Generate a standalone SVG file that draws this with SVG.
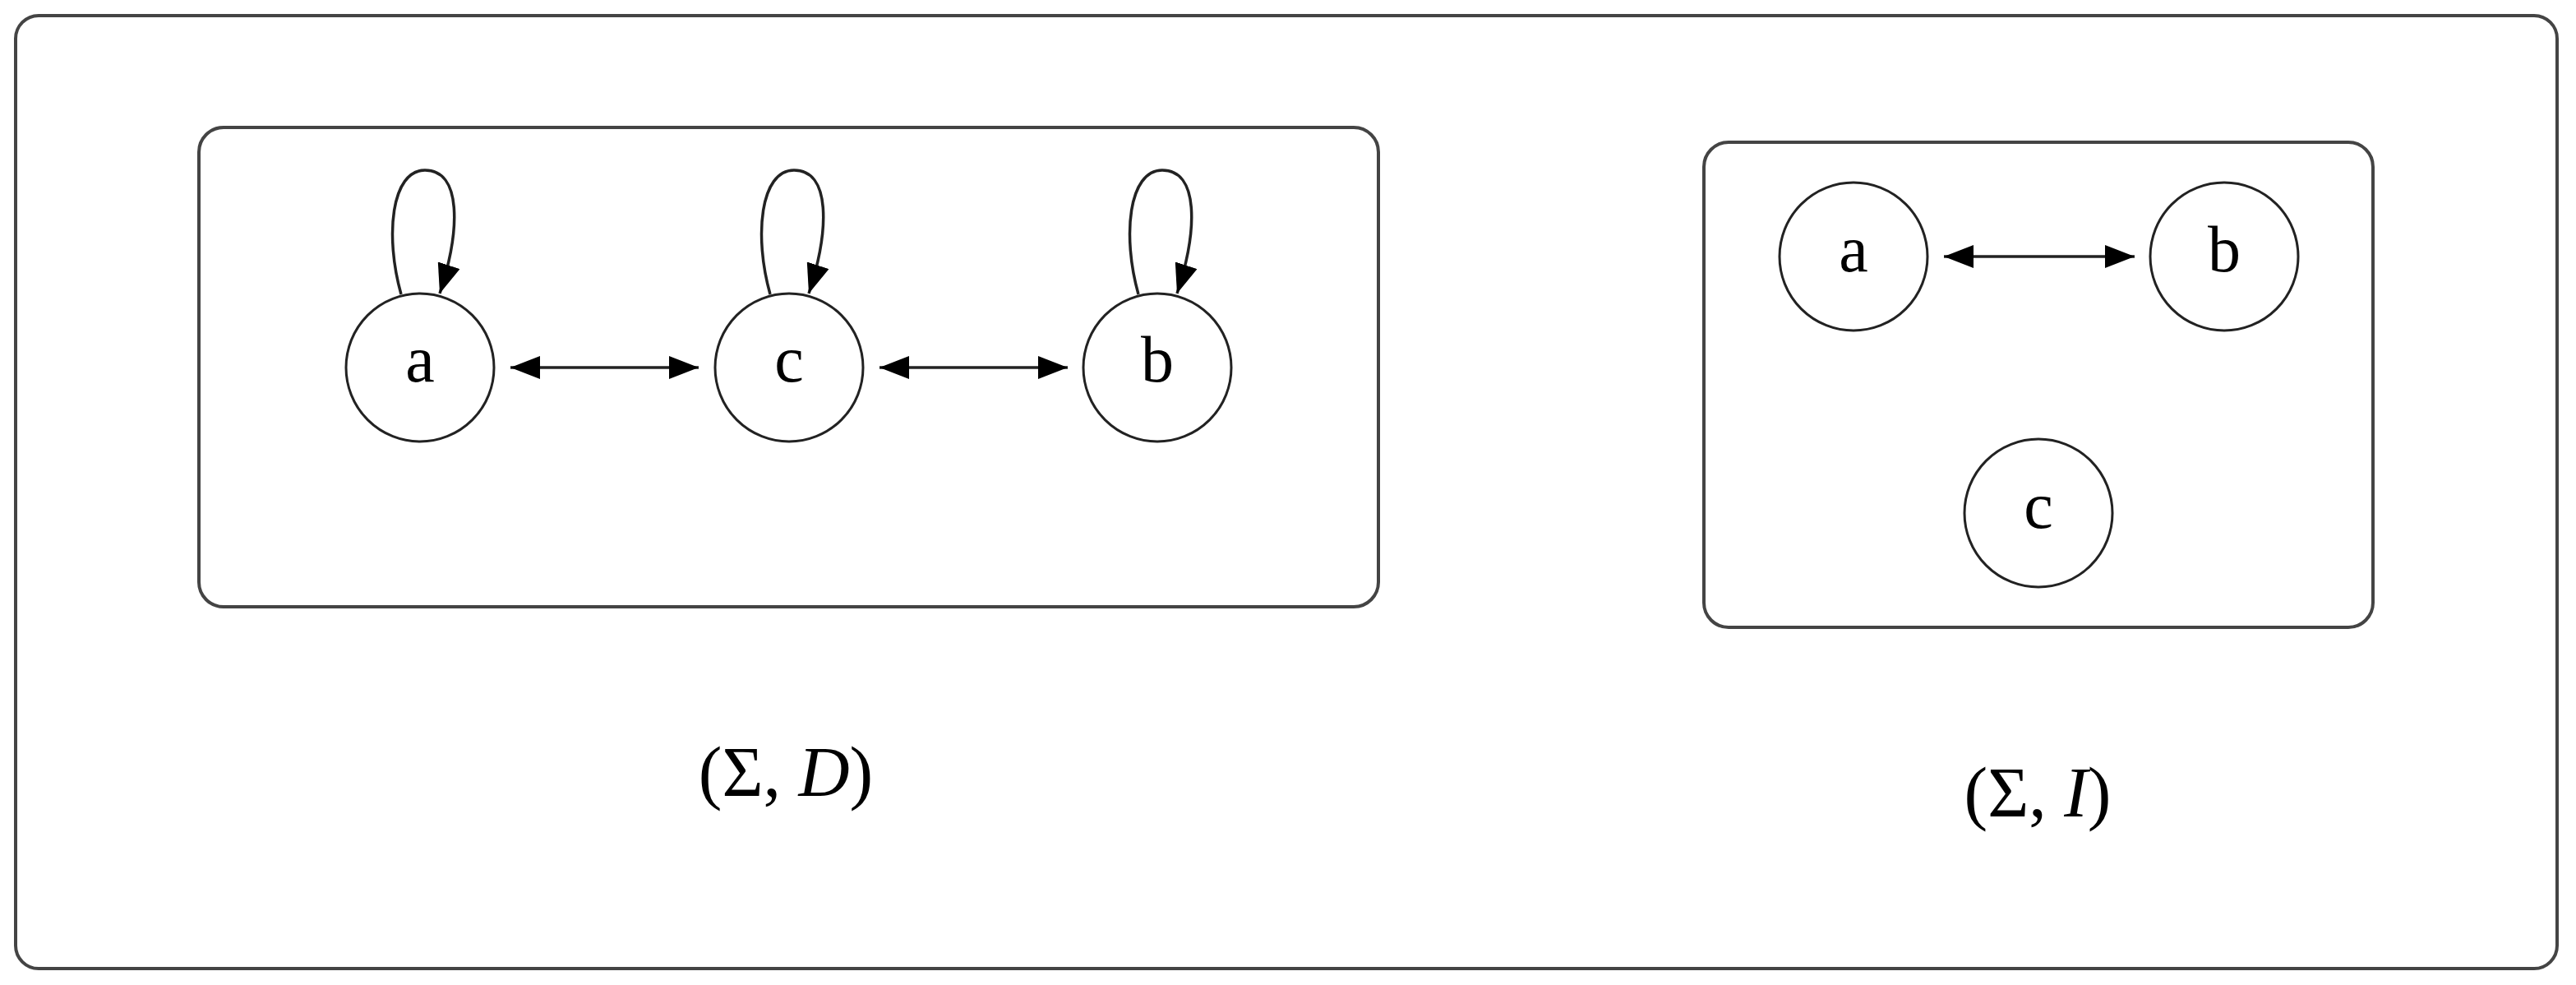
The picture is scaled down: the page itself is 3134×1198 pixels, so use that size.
<svg xmlns="http://www.w3.org/2000/svg" width="3134" height="1198" viewBox="0 0 3134 1198">
<style>
.frame{fill:none;stroke:#444;stroke-width:4}
.node circle{fill:#fff;stroke:#222;stroke-width:3}
.node text{font-family:"Liberation Serif","DejaVu Serif",serif;font-size:80px;fill:#000;text-anchor:middle}
.edge{fill:none;stroke:#222;stroke-width:3.5}
.label{font-family:"Liberation Serif","DejaVu Serif",serif;font-size:86px;fill:#000;text-anchor:middle}
</style>
<defs>
<marker id="ah" viewBox="0 0 36 28" refX="36" refY="14" markerWidth="36" markerHeight="28" markerUnits="userSpaceOnUse" orient="auto-start-reverse">
<path d="M0,0 L36,14 L0,28 z" fill="#000"/>
</marker>
</defs>
<rect width="3134" height="1198" fill="#fff"/>
<rect id="outer" class="frame" x="19" y="19" width="3092" height="1159" rx="28"/>
<rect id="groupD" class="frame" x="242" y="155" width="1435" height="583" rx="30"/>
<rect id="groupI" class="frame" x="2073" y="173" width="814" height="590" rx="30"/>

<g id="connectors">
<path class="edge" d="M488,358 C468,287 476,207 517,207 C561,207 561,277 535,357" marker-end="url(#ah)"/>
<path class="edge" d="M937,358 C917,287 925,207 966,207 C1010,207 1010,277 984,357" marker-end="url(#ah)"/>
<path class="edge" d="M1385,358 C1365,287 1373,207 1414,207 C1458,207 1458,277 1432,357" marker-end="url(#ah)"/>
<line class="edge" x1="621" y1="447" x2="850" y2="447" marker-start="url(#ah)" marker-end="url(#ah)"/>
<line class="edge" x1="1070" y1="447" x2="1299" y2="447" marker-start="url(#ah)" marker-end="url(#ah)"/>
<line class="edge" x1="2365" y1="312" x2="2597" y2="312" marker-start="url(#ah)" marker-end="url(#ah)"/>
</g>

<g id="D_a" class="node"><circle cx="511" cy="447" r="90"/><text x="511" y="464">a</text></g>
<g id="D_c" class="node"><circle cx="960" cy="447" r="90"/><text x="960" y="464">c</text></g>
<g id="D_b" class="node"><circle cx="1408" cy="447" r="90"/><text x="1408" y="464">b</text></g>

<g id="I_a" class="node"><circle cx="2255" cy="312" r="90"/><text x="2255" y="330">a</text></g>
<g id="I_b" class="node"><circle cx="2706" cy="312" r="90"/><text x="2706" y="330">b</text></g>
<g id="I_c" class="node"><circle cx="2480" cy="624" r="90"/><text x="2480" y="642">c</text></g>

<text class="label" x="956" y="968">(Σ, <tspan font-style="italic">D</tspan>)</text>
<text class="label" x="2479" y="993">(Σ, <tspan font-style="italic">I</tspan>)</text>
</svg>
